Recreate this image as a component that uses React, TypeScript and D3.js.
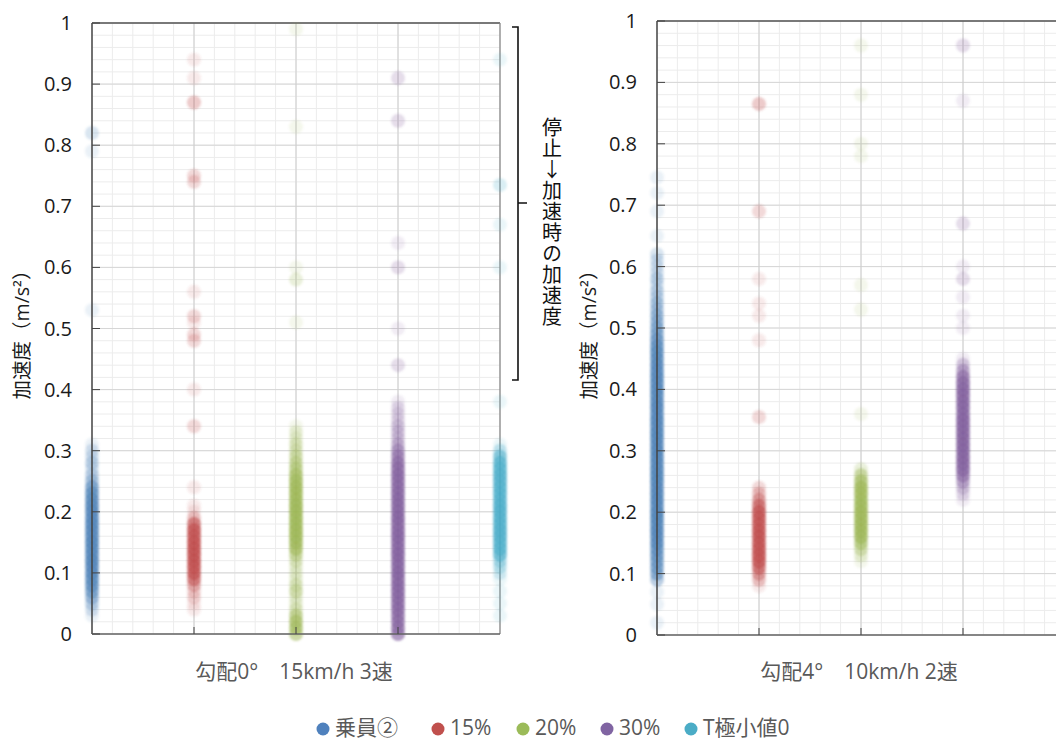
import React, { useEffect, useRef } from "react";
import * as d3 from "d3";

const seriesNames = ["乗員②", "15%", "20%", "30%", "T極小値0"];
const seriesColors = ["#4f81bd", "#c0504d", "#9bbb59", "#8064a2", "#4bacc6"];

const yTickValues = [0, 0.1, 0.2, 0.3, 0.4, 0.5, 0.6, 0.7, 0.8, 0.9, 1];
const yTickLabels = ["0", "0.1", "0.2", "0.3", "0.4", "0.5", "0.6", "0.7", "0.8", "0.9", "1"];

const leftTitle = "勾配0°　15km/h 3速";
const rightTitle = "勾配4°　10km/h 2速";
const yTitle = "加速度（m/s²）";
const bracketLabel = "停止↓加速時の加速度";

// [acceleration (m/s2), number of samples at that value]
const leftCrew = [
  [0.03, 1], [0.04, 2], [0.05, 3], [0.06, 5], [0.07, 7], [0.08, 9], [0.09, 10], [0.1, 11],
  [0.11, 11], [0.12, 12], [0.13, 11], [0.14, 11], [0.15, 12], [0.16, 11], [0.17, 11], [0.18, 12],
  [0.19, 11], [0.2, 11], [0.21, 11], [0.22, 10], [0.23, 9], [0.24, 7], [0.25, 4], [0.26, 3],
  [0.27, 2], [0.28, 3], [0.29, 2], [0.3, 2], [0.31, 1], [0.53, 1], [0.79, 1], [0.82, 2],
];
const left15 = [
  [0.04, 1], [0.05, 1], [0.06, 2], [0.07, 2], [0.08, 4], [0.09, 8], [0.1, 11], [0.11, 12],
  [0.12, 12], [0.13, 12], [0.14, 12], [0.15, 12], [0.16, 11], [0.17, 11], [0.18, 8], [0.19, 3],
  [0.2, 1], [0.21, 1], [0.24, 1], [0.34, 2], [0.4, 1], [0.48, 2], [0.49, 2], [0.51, 1],
  [0.52, 2], [0.56, 1], [0.74, 2], [0.75, 2], [0.87, 3], [0.91, 1], [0.94, 1],
];
const left20 = [
  [0, 6], [0.01, 8], [0.02, 8], [0.03, 6], [0.04, 3], [0.05, 2], [0.06, 2], [0.07, 4],
  [0.08, 3], [0.09, 2], [0.1, 2], [0.11, 2], [0.12, 3], [0.13, 5], [0.14, 9], [0.15, 11],
  [0.16, 12], [0.17, 12], [0.18, 12], [0.19, 12], [0.2, 12], [0.21, 12], [0.22, 11], [0.23, 11],
  [0.24, 11], [0.25, 10], [0.26, 8], [0.27, 6], [0.28, 5], [0.29, 4], [0.3, 3], [0.31, 3],
  [0.32, 2], [0.33, 2], [0.34, 1], [0.51, 1], [0.58, 2], [0.6, 1], [0.83, 1], [0.99, 1],
];
const left30 = [
  [0, 8], [0.01, 9], [0.02, 9], [0.03, 9], [0.04, 10], [0.05, 10], [0.06, 11], [0.07, 11],
  [0.08, 11], [0.09, 11], [0.1, 12], [0.11, 11], [0.12, 11], [0.13, 12], [0.14, 11], [0.15, 11],
  [0.16, 12], [0.17, 11], [0.18, 11], [0.19, 12], [0.2, 11], [0.21, 11], [0.22, 11], [0.23, 11],
  [0.24, 10], [0.25, 10], [0.26, 10], [0.27, 10], [0.28, 9], [0.29, 7], [0.3, 6], [0.31, 4],
  [0.32, 3], [0.33, 3], [0.34, 3], [0.35, 2], [0.36, 2], [0.37, 2], [0.38, 1], [0.44, 2],
  [0.5, 1], [0.6, 2], [0.64, 1], [0.84, 2], [0.91, 2],
];
const leftT = [
  [0.03, 1], [0.05, 1], [0.07, 1], [0.09, 1], [0.1, 2], [0.11, 3], [0.12, 4], [0.13, 9],
  [0.14, 11], [0.15, 11], [0.16, 12], [0.17, 12], [0.18, 12], [0.19, 12], [0.2, 12], [0.21, 12],
  [0.22, 11], [0.23, 11], [0.24, 11], [0.25, 11], [0.26, 11], [0.27, 11], [0.28, 10], [0.29, 7],
  [0.3, 3], [0.31, 1], [0.38, 1], [0.6, 1], [0.67, 1], [0.735, 2], [0.94, 1],
];

const rightCrew = [
  [0.02, 1], [0.05, 1], [0.07, 1], [0.09, 4], [0.1, 6], [0.11, 7], [0.12, 7], [0.13, 8],
  [0.14, 9], [0.15, 11], [0.16, 11], [0.17, 12], [0.18, 11], [0.19, 12], [0.2, 12], [0.21, 11],
  [0.22, 12], [0.23, 12], [0.24, 11], [0.25, 12], [0.26, 12], [0.27, 12], [0.28, 11], [0.29, 12],
  [0.3, 12], [0.31, 11], [0.32, 12], [0.33, 12], [0.34, 11], [0.35, 12], [0.36, 11], [0.37, 12],
  [0.38, 11], [0.39, 11], [0.4, 11], [0.41, 11], [0.42, 11], [0.43, 11], [0.44, 11], [0.45, 10],
  [0.46, 10], [0.47, 9], [0.48, 8], [0.49, 6], [0.5, 6], [0.51, 5], [0.52, 5], [0.53, 4],
  [0.54, 4], [0.55, 3], [0.56, 3], [0.57, 2], [0.58, 3], [0.59, 2], [0.6, 2], [0.61, 2],
  [0.62, 2], [0.65, 1], [0.69, 1], [0.72, 1], [0.745, 1],
];
const right15 = [
  [0.08, 1], [0.09, 3], [0.1, 5], [0.11, 8], [0.12, 11], [0.13, 12], [0.14, 12], [0.15, 12],
  [0.16, 12], [0.17, 12], [0.18, 11], [0.19, 11], [0.2, 11], [0.21, 8], [0.22, 5], [0.23, 3],
  [0.24, 2], [0.355, 2], [0.48, 1], [0.52, 1], [0.54, 1], [0.58, 1], [0.69, 2], [0.865, 3],
];
const right20 = [
  [0.12, 1], [0.13, 2], [0.14, 4], [0.15, 7], [0.16, 11], [0.17, 12], [0.18, 12], [0.19, 12],
  [0.2, 12], [0.21, 12], [0.22, 11], [0.23, 11], [0.24, 11], [0.25, 8], [0.26, 5], [0.27, 2],
  [0.36, 1], [0.53, 1], [0.57, 1], [0.78, 1], [0.8, 1], [0.88, 1], [0.96, 1],
];
const right30 = [
  [0.22, 1], [0.23, 2], [0.24, 3], [0.25, 5], [0.26, 8], [0.27, 11], [0.28, 11], [0.29, 12],
  [0.3, 12], [0.31, 12], [0.32, 12], [0.33, 12], [0.34, 12], [0.35, 12], [0.36, 11], [0.37, 11],
  [0.38, 11], [0.39, 11], [0.4, 11], [0.41, 10], [0.42, 8], [0.43, 5], [0.44, 3], [0.45, 1],
  [0.5, 1], [0.52, 1], [0.55, 1], [0.58, 2], [0.6, 1], [0.67, 2], [0.87, 1], [0.96, 2],
];
const rightT: number[][] = [];

const panels = [
  { left: 92, right: 500, top: 23, bottom: 634, yTitleX: 22, title: leftTitle,
    series: [leftCrew, left15, left20, left30, leftT] },
  { left: 657, right: 1065, top: 21, bottom: 635, yTitleX: 589, title: rightTitle,
    series: [rightCrew, right15, right20, right30, rightT] },
];

const legendX = [323, 438, 523, 607, 691];

const App = () => {
  const svgRef = useRef<SVGSVGElement>(null);

  useEffect(() => {
    const svg = d3.select(svgRef.current);
    svg.selectAll("*").remove();

    svg
      .append("defs")
      .append("filter")
      .attr("id", "soft")
      .attr("x", "-20%")
      .attr("y", "-5%")
      .attr("width", "140%")
      .attr("height", "110%")
      .append("feGaussianBlur")
      .attr("stdDeviation", 0.8);

    const font = "'Open Sans', 'Noto Sans CJK JP', sans-serif";

    panels.forEach((p) => {
      const x = d3.scaleLinear().domain([0, 4]).range([p.left, p.right]);
      const y = d3.scaleLinear().domain([0, 1]).range([p.bottom, p.top]);
      const g = svg.append("g");

      // minor grid
      g.append("g")
        .selectAll("line")
        .data(x.ticks(20))
        .join("line")
        .attr("x1", (d) => x(d))
        .attr("x2", (d) => x(d))
        .attr("y1", p.top)
        .attr("y2", p.bottom)
        .attr("stroke", "#ececec");
      g.append("g")
        .selectAll("line")
        .data(y.ticks(50))
        .join("line")
        .attr("x1", p.left)
        .attr("x2", p.right)
        .attr("y1", (d) => y(d))
        .attr("y2", (d) => y(d))
        .attr("stroke", "#ececec");

      // major grid
      g.append("g")
        .selectAll("line")
        .data(yTickValues)
        .join("line")
        .attr("x1", p.left)
        .attr("x2", p.right)
        .attr("y1", (d) => y(d))
        .attr("y2", (d) => y(d))
        .attr("stroke", "#d6d6d6");
      g.append("g")
        .selectAll("line")
        .data([1, 2, 3])
        .join("line")
        .attr("x1", (d) => x(d))
        .attr("x2", (d) => x(d))
        .attr("y1", p.top)
        .attr("y2", p.bottom)
        .attr("stroke", "#cccccc");

      // frame
      g.append("line").attr("x1", p.left).attr("x2", p.right).attr("y1", p.top).attr("y2", p.top)
        .attr("stroke", "#555").attr("stroke-width", 1.3);
      g.append("line").attr("x1", p.right).attr("x2", p.right).attr("y1", p.top).attr("y2", p.bottom)
        .attr("stroke", "#888").attr("stroke-width", 1.3);

      // points
      const pts = g.append("g").attr("filter", "url(#soft)");
      p.series.forEach((s, i) => {
        const vals = s.flatMap(([v, n]) => Array(n).fill(v));
        pts
          .append("g")
          .selectAll("circle")
          .data(vals)
          .join("circle")
          .attr("cx", x(i))
          .attr("cy", (d) => y(d))
          .attr("r", 7)
          .attr("fill", seriesColors[i])
          .attr("fill-opacity", 0.115);
      });

      // axes
      g.append("line").attr("x1", p.left).attr("x2", p.left).attr("y1", p.top).attr("y2", p.bottom)
        .attr("stroke", "#444").attr("stroke-width", 1.5);
      g.append("line").attr("x1", p.left).attr("x2", p.right).attr("y1", p.bottom).attr("y2", p.bottom)
        .attr("stroke", "#666").attr("stroke-width", 1.5);
      g.append("g")
        .selectAll("line")
        .data(yTickValues)
        .join("line")
        .attr("x1", p.left)
        .attr("x2", p.left + 8)
        .attr("y1", (d) => y(d))
        .attr("y2", (d) => y(d))
        .attr("stroke", "#444");
      g.append("g")
        .selectAll("line")
        .data([1, 2, 3])
        .join("line")
        .attr("x1", (d) => x(d))
        .attr("x2", (d) => x(d))
        .attr("y1", p.bottom - 7)
        .attr("y2", p.bottom)
        .attr("stroke", "#444");

      g.append("g")
        .selectAll("text")
        .data(yTickValues)
        .join("text")
        .attr("x", p.left - 20)
        .attr("y", (d) => y(d))
        .attr("dy", "0.35em")
        .attr("text-anchor", "end")
        .attr("font-family", font)
        .attr("font-size", 20)
        .attr("fill", "#1a1a1a")
        .text((d, i) => yTickLabels[i]);

      g.append("text")
        .attr("transform", `translate(${p.yTitleX},330) rotate(-90)`)
        .attr("dy", "0.35em")
        .attr("text-anchor", "middle")
        .attr("font-family", font)
        .attr("font-size", 19.5)
        .attr("fill", "#1a1a1a")
        .text(yTitle);

      g.append("text")
        .attr("x", x(2) - 2)
        .attr("y", 672)
        .attr("dy", "0.35em")
        .attr("text-anchor", "middle")
        .attr("font-family", font)
        .attr("font-size", 21)
        .attr("fill", "#595959")
        .text(p.title);
    });

    // bracket on the left panel
    svg
      .append("path")
      .attr("d", "M512,27H518V380H512M518,203H527")
      .attr("fill", "none")
      .attr("stroke", "#111")
      .attr("stroke-width", 1.6);
    svg
      .append("text")
      .attr("x", 552)
      .attr("y", 117)
      .style("writing-mode", "vertical-rl")
      .style("text-orientation", "upright")
      .attr("letter-spacing", 1.1)
      .attr("font-family", "'Noto Sans CJK JP', sans-serif")
      .attr("font-size", 20)
      .attr("fill", "#111")
      .text(bracketLabel);

    // legend
    const lg = svg.append("g");
    seriesNames.forEach((name, i) => {
      lg.append("circle")
        .attr("cx", legendX[i])
        .attr("cy", 729)
        .attr("r", 6.5)
        .attr("fill", seriesColors[i]);
      lg.append("text")
        .attr("x", legendX[i] + 12)
        .attr("y", 728)
        .attr("dy", "0.35em")
        .attr("font-family", font)
        .attr("font-size", 21)
        .attr("fill", "#595959")
        .text(name);
    });
  }, []);

  return (
    <svg
      ref={svgRef}
      width={1056}
      height={740}
      style={{ position: "absolute", left: 0, top: 0, background: "#fff" }}
    />
  );
};

export default App;
